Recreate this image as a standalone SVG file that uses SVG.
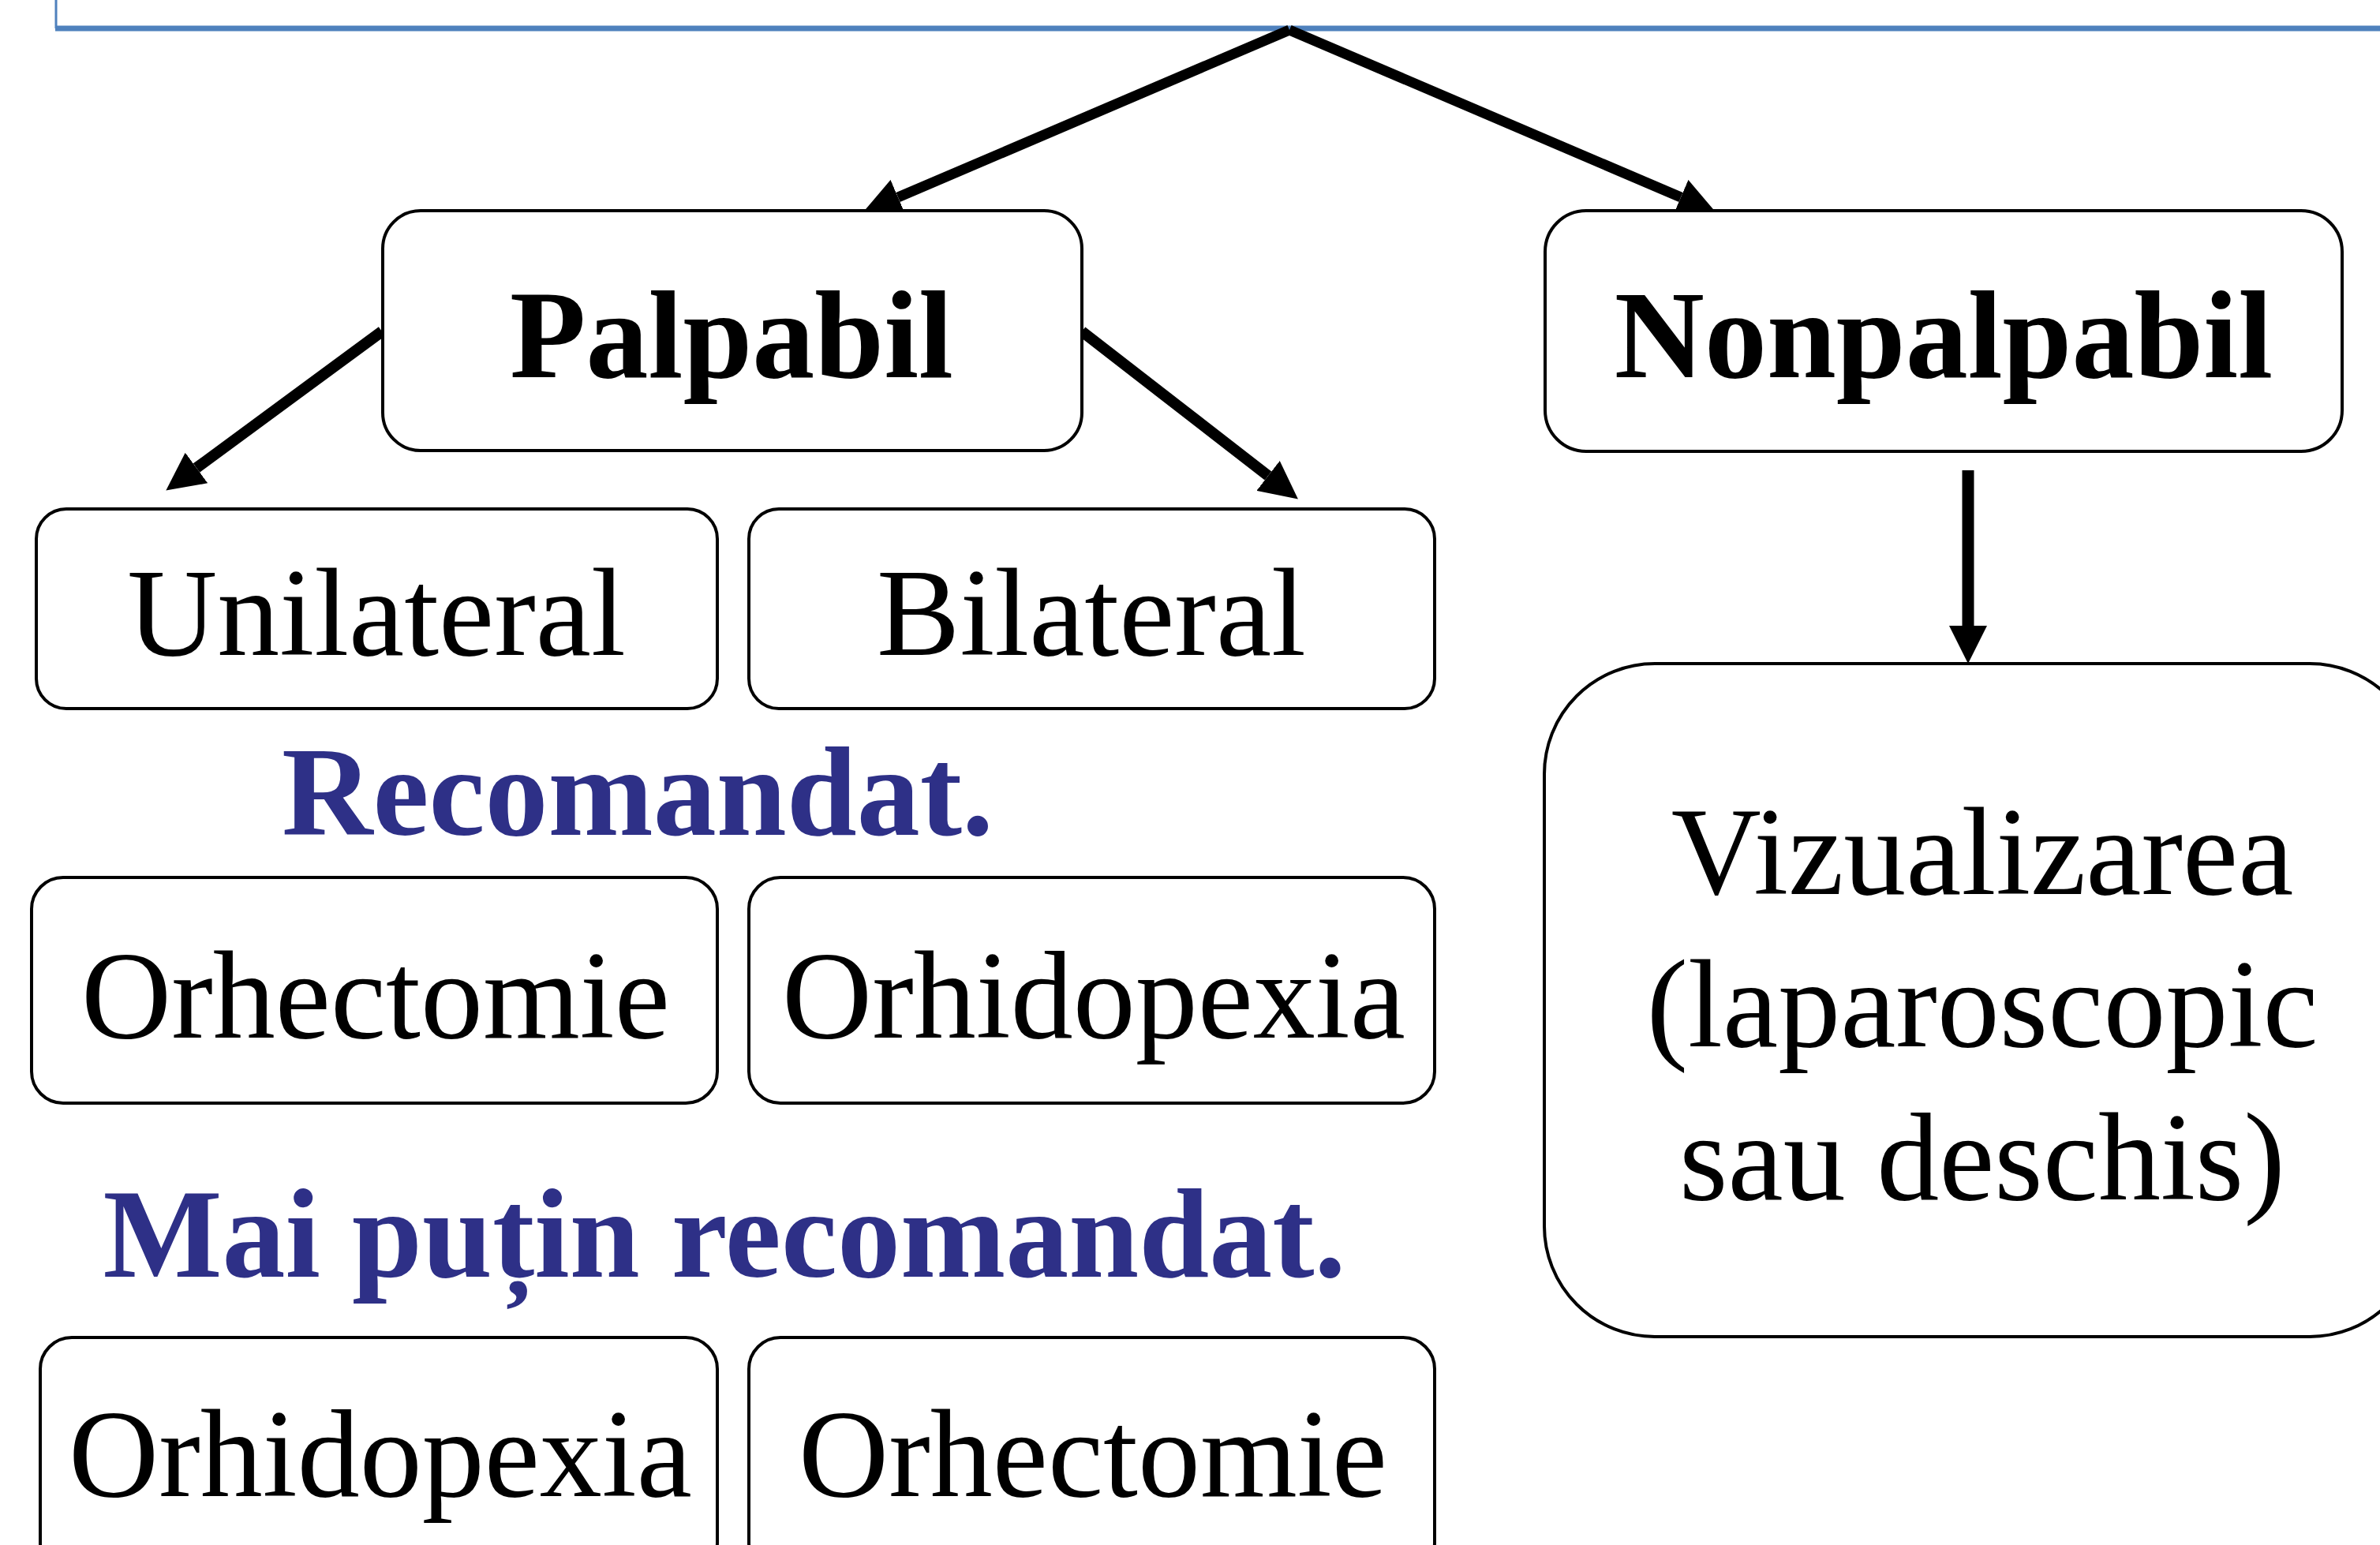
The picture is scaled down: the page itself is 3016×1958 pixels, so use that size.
<svg xmlns="http://www.w3.org/2000/svg" width="3016" height="1958" viewBox="0 0 3016 1958">
<style>
.box{fill:#fff;stroke:#000;stroke-width:4}
.t{font-family:"Liberation Serif","Times New Roman",serif;font-size:158px;fill:#000;text-anchor:middle}
.b{font-weight:bold}
.blue{fill:#2E3087;font-size:160px}
.con{stroke:#000;fill:none}
</style>
<defs>
<marker id="ah" viewBox="0 -24 48 48" markerWidth="48" markerHeight="48" refX="0" refY="0" orient="auto" markerUnits="userSpaceOnUse">
<path d="M0,-24 L48,0 L0,24 z" fill="#000"/>
</marker>
</defs>
<rect width="3016" height="1958" fill="#fff"/>
<g id="top">
<path d="M71,0 V36" stroke="#4F81BD" stroke-width="3" fill="none"/>
<path d="M70,36 H3016" stroke="#4F81BD" stroke-width="7" fill="none"/>
</g>
<g id="connectors">
<line class="con" x1="1634" y1="38" x2="1138" y2="250" stroke-width="13" marker-end="url(#ah)"/>
<line class="con" x1="1634" y1="38" x2="2130" y2="250" stroke-width="13" marker-end="url(#ah)"/>
<line class="con" x1="484" y1="420" x2="249" y2="593" stroke-width="14" marker-end="url(#ah)"/>
<line class="con" x1="1371" y1="420" x2="1607" y2="603" stroke-width="14" marker-end="url(#ah)"/>
<line class="con" x1="2494" y1="596" x2="2494" y2="793" stroke-width="15" marker-end="url(#ah)"/>
</g>
<g id="palpabil">
<rect class="box" x="485" y="267" width="886" height="304" rx="48" ry="48"/>
<text class="t b" x="927" y="478">Palpabil</text>
</g>
<g id="nonpalpabil">
<rect class="box" x="1958" y="267" width="1010" height="305" rx="52" ry="52"/>
<text class="t b" x="2463" y="478">Nonpalpabil</text>
</g>
<g id="unilateral">
<rect class="box" x="46" y="645" width="863" height="253" rx="38" ry="38"/>
<text class="t" x="477" y="830">Unilateral</text>
</g>
<g id="bilateral">
<rect class="box" x="949" y="645" width="869" height="253" rx="38" ry="38"/>
<text class="t" x="1383" y="830">Bilateral</text>
</g>
<g id="recomandat">
<text class="t b blue" x="808" y="1058">Recomandat.</text>
</g>
<g id="orhectomie1">
<rect class="box" x="40" y="1112" width="869" height="286" rx="40" ry="40"/>
<text class="t" x="476" y="1315">Orhectomie</text>
</g>
<g id="orhidopexia1">
<rect class="box" x="949" y="1112" width="869" height="286" rx="40" ry="40"/>
<text class="t" x="1386" y="1315">Orhidopexia</text>
</g>
<g id="mai-putin">
<text class="t b blue" x="918" y="1618">Mai puțin recomandat.</text>
</g>
<g id="orhidopexia2">
<rect class="box" x="51" y="1695" width="858" height="300" rx="40" ry="40"/>
<text class="t" x="482" y="1896">Orhidopexia</text>
</g>
<g id="orhectomie2">
<rect class="box" x="949" y="1695" width="869" height="300" rx="40" ry="40"/>
<text class="t" x="1385" y="1896">Orhectomie</text>
</g>
<g id="vizualizarea">
<rect class="box" x="1957" y="841" width="1110" height="853" rx="140" ry="140"/>
<text class="t" x="2512" y="1133">Vizualizarea</text>
<text class="t" x="2512" y="1326">(laparoscopic</text>
<text class="t" x="2512" y="1520">sau deschis)</text>
</g>
</svg>
